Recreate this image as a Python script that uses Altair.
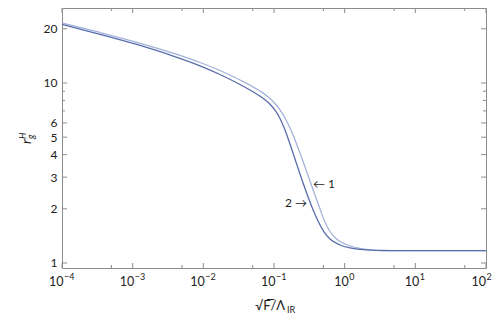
import altair as alt
import pandas as pd

# ---- data ----
# curve 1 (light)
x1 = [0.0001, 0.000345, 0.001079, 0.003375, 0.008968, 0.01721, 0.03303, 0.05384, 0.07459,
      0.08779, 0.1033, 0.1216, 0.1431, 0.1684, 0.1982, 0.2333, 0.2746, 0.3231, 0.3803,
      0.4476, 0.5267, 0.6199, 0.7297, 0.859, 1.19, 1.648, 2.283, 3.723, 6.067, 100]
y1 = [21.54, 19.08, 16.94, 14.83, 13.0, 11.73, 10.39, 9.38, 8.63,
      8.2, 7.69, 7.08, 6.39, 5.62, 4.83, 4.08, 3.41, 2.855, 2.387,
      1.995, 1.69, 1.496, 1.386, 1.317, 1.243, 1.204, 1.184, 1.173, 1.17, 1.17]
# curve 2 (dark)
x2 = [0.0001, 0.000345, 0.001079, 0.003375, 0.008968, 0.01721, 0.03303, 0.05384, 0.06336,
      0.07459, 0.08779, 0.1033, 0.1216, 0.1431, 0.1684, 0.1982, 0.2333, 0.2746, 0.3231,
      0.3681, 0.4195, 0.51, 0.6199, 0.859, 1.19, 1.648, 2.687, 6.067, 100]
y2 = [21.16, 18.65, 16.47, 14.31, 12.46, 11.15, 9.81, 8.8, 8.45,
      8.07, 7.62, 7.06, 6.35, 5.48, 4.58, 3.78, 3.12, 2.594, 2.183,
      1.92, 1.712, 1.491, 1.359, 1.259, 1.212, 1.189, 1.175, 1.17, 1.17]

x_major = [1e-4, 1e-3, 1e-2, 1e-1, 1, 10, 100]
x_minor = [5e-4, 5e-3, 5e-2, 5e-1, 5, 50]
y_major = [1, 2, 3, 4, 5, 6, 10, 20]
y_minor = [7, 8, 9]

# x tick labels: 10 with exponent
xlab_neg_pos = [1e-4, 1e-3, 1e-2, 1e-1]
xlab_neg_exp = ["\u22124", "\u22123", "\u22122", "\u22121"]
xlab_pos_pos = [1, 10]
xlab_pos_exp = ["0", "1"]
xlab_end_pos = [100]
xlab_end_exp = ["2"]

ann_left = {"x": [0.356], "y": [2.75], "t": ["\u2190 1"]}
ann_right = {"x": [0.293], "y": [2.15], "t": ["2 \u2192"]}

W, H = 424, 260
LIGHT = "#a3b2d8"
DARK = "#586daa"
FRAME = "#8c8c8c"
FONT = "Lato"
TXT = "#222222"

df = pd.concat([
    pd.DataFrame({"x": x1, "y": y1, "s": "1"}),
    pd.DataFrame({"x": x2, "y": y2, "s": "2"}),
])

xs = alt.Scale(type="log", domain=[1e-4, 100], nice=False)
ys = alt.Scale(type="log", domain=[0.938, 26.1], nice=False, zero=False)

AX = alt.Axis(values=x_major, labels=False, title=None, ticks=False, domain=False, grid=False)
AY = alt.Axis(values=y_major, title=None, format="d", ticks=False, domain=False, grid=False,
              labelPadding=5, labelFontSize=12, labelFont=FONT, labelColor=TXT)

lines = alt.Chart(df).mark_line(interpolate="monotone", strokeWidth=1.3, clip=True).encode(
    x=alt.X("x:Q", scale=xs, axis=AX),
    y=alt.Y("y:Q", scale=ys, axis=AY),
    color=alt.Color("s:N", scale=alt.Scale(domain=["1", "2"], range=[LIGHT, DARK]), legend=None),
)


def xticks(vals, length, top):
    d = pd.DataFrame({"x": vals})
    y0, y1_ = (0, length) if top else (H, H - length)
    return alt.Chart(d).mark_rule(color=FRAME, strokeWidth=1).encode(
        x=alt.X("x:Q", scale=xs, axis=AX), y=alt.value(y0), y2=alt.value(y1_))


def yticks(vals, length, right):
    d = pd.DataFrame({"y": vals})
    x0, x1_ = (W, W - length) if right else (0, length)
    return alt.Chart(d).mark_rule(color=FRAME, strokeWidth=1).encode(
        y=alt.Y("y:Q", scale=ys, axis=AY), x=alt.value(x0), x2=alt.value(x1_))


tick_layers = [
    xticks(x_major, 5, False), xticks(x_minor, 3, False),
    xticks(x_major, 5, True), xticks(x_minor, 3, True),
    yticks(y_major, 5, False), yticks(y_minor, 3, False),
    yticks(y_major, 5, True), yticks(y_minor, 3, True),
]


def xlabels(pos, exps, shift):
    d = pd.DataFrame({"x": pos, "b": ["10"] * len(pos), "e": exps})
    base = alt.Chart(d).mark_text(align="right", baseline="alphabetic", fontSize=12.5,
                                  font=FONT, color=TXT, dx=shift).encode(
        x=alt.X("x:Q", scale=xs, axis=AX), y=alt.value(H + 18), text="b:N")
    exp = alt.Chart(d).mark_text(align="left", baseline="alphabetic", fontSize=9,
                                 font=FONT, color=TXT, dx=shift + 0.5).encode(
        x=alt.X("x:Q", scale=xs, axis=AX), y=alt.value(H + 12), text="e:N")
    return [base, exp]


label_layers = (xlabels(xlab_neg_pos, xlab_neg_exp, 1.5)
                + xlabels(xlab_pos_pos, xlab_pos_exp, 4)
                + xlabels(xlab_end_pos, xlab_end_exp, 0))

a1 = alt.Chart(pd.DataFrame(ann_left)).mark_text(align="left", baseline="middle", fontSize=12,
                                                   font=FONT, color=TXT).encode(
    x=alt.X("x:Q", scale=xs, axis=AX), y=alt.Y("y:Q", scale=ys, axis=AY), text="t:N")
a2 = alt.Chart(pd.DataFrame(ann_right)).mark_text(align="right", baseline="middle", fontSize=12,
                                                    font=FONT, color=TXT).encode(
    x=alt.X("x:Q", scale=xs, axis=AX), y=alt.Y("y:Q", scale=ys, axis=AY), text="t:N")

# axis titles
xt_main = alt.Chart(pd.DataFrame({"t": ["\u221aF\u0305/\u039b"]})).mark_text(
    align="left", baseline="alphabetic", fontSize=13, font=FONT, color=TXT).encode(
    x=alt.value(193), y=alt.value(302), text="t:N")
xt_sub = alt.Chart(pd.DataFrame({"t": ["IR"]})).mark_text(
    align="left", baseline="alphabetic", fontSize=9, font=FONT, color=TXT).encode(
    x=alt.value(225), y=alt.value(305), text="t:N")

yt_r = alt.Chart(pd.DataFrame({"t": ["r"]})).mark_text(
    align="left", baseline="alphabetic", fontSize=14, font=FONT, fontStyle="italic",
    angle=270, color=TXT).encode(x=alt.value(-31), y=alt.value(136), text="t:N")
yt_H = alt.Chart(pd.DataFrame({"t": ["H"]})).mark_text(
    align="left", baseline="alphabetic", fontSize=9, font=FONT, fontStyle="italic",
    angle=270, color=TXT).encode(x=alt.value(-36), y=alt.value(131), text="t:N")
yt_g = alt.Chart(pd.DataFrame({"t": ["g"]})).mark_text(
    align="left", baseline="alphabetic", fontSize=9, font=FONT, fontStyle="italic",
    angle=270, color=TXT).encode(x=alt.value(-28), y=alt.value(131), text="t:N")

chart = alt.layer(lines, *tick_layers, *label_layers, a1, a2, xt_main, xt_sub,
                  yt_r, yt_H, yt_g).properties(
    width=W, height=H,
    autosize=alt.AutoSizeParams(type="none"),
    padding={"left": 54, "top": 0, "right": 6, "bottom": 52},
).configure_view(stroke=FRAME, strokeWidth=1)

chart.save("out.html", embed_options={"renderer": "svg", "actions": False})
